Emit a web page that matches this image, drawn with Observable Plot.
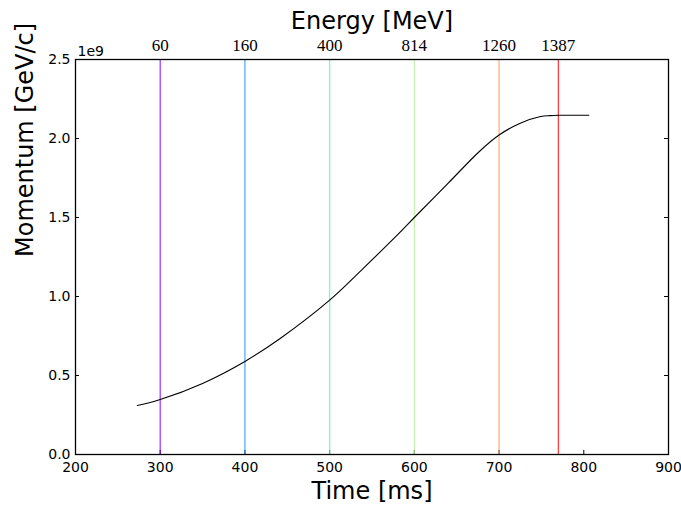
<!DOCTYPE html>
<html>
<head>
<meta charset="utf-8">
<script src="https://cdn.jsdelivr.net/npm/d3@7"></script>
<script src="https://cdn.jsdelivr.net/npm/@observablehq/plot@0.6"></script>
<style>
  html, body { margin: 0; padding: 0; background: #fff; }
  svg text { font-family: "DejaVu Sans", sans-serif; }
  svg text.serif, svg g.serif text { font-family: "Liberation Serif", serif; }
</style>
</head>
<body>
<div id="chart"></div>
<script>
// Ramp time [ms] and beam momentum [1e9 eV/c]
const timeMs   = [273, 300, 350, 400, 442, 500, 540, 580, 600, 640, 678, 700, 725, 749, 760, 770, 785, 806];
const momentum = [0.31, 0.348, 0.45, 0.589, 0.736, 0.977, 1.18, 1.39, 1.50, 1.718, 1.924, 2.022, 2.097, 2.139, 2.145, 2.147, 2.147, 2.147];

// Extraction times [ms] and the matching kinetic energies [MeV]
const markerTimes   = [300, 400, 500, 600, 700, 770];
const markerEnergy  = ["60", "160", "400", "814", "1260", "1387"];
const markerColours = ["#8000ff", "#1a96f2", "#4cf2ce", "#b3f296", "#ff964f", "#ff0000"];

const xTicks = [200, 300, 400, 500, 600, 700, 800, 900];
const yTicks = [0, 0.5, 1.0, 1.5, 2.0, 2.5];

const curve = timeMs.map((t, i) => ({t, p: momentum[i]}));
const markers = markerTimes.map((t, i) => ({t, E: markerEnergy[i], c: markerColours[i]}));

const sans = "DejaVu Sans";

const chart = Plot.plot({
  width: 681,
  height: 506,
  marginLeft: 75,
  marginRight: 13,
  marginTop: 59,
  marginBottom: 52,
  style: {fontFamily: sans, fontSize: "14px", background: "#fff", color: "#000", overflow: "visible"},
  x: {domain: [200, 900]},
  y: {domain: [0, 2.5]},
  marks: [
    // inward ticks on bottom, left and right
    Plot.ruleX(xTicks, {x: d => d, y1: 0, y2: 0.026, stroke: "#000", strokeWidth: 1}),
    Plot.ruleY(yTicks, {y: d => d, x1: 200, x2: 204.7, stroke: "#000", strokeWidth: 1}),
    Plot.ruleY(yTicks, {y: d => d, x1: 895.3, x2: 900, stroke: "#000", strokeWidth: 1}),
    Plot.axisX({ticks: xTicks, tickSize: 0, tickPadding: 8, tickFormat: d => String(d), fontSize: 14, fontFamily: sans, label: null}),
    Plot.axisY({ticks: yTicks, tickSize: 0, tickPadding: 5, tickFormat: d => d.toFixed(1), fontSize: 14, fontFamily: sans, label: null}),
    // extraction markers
    Plot.ruleX(markers, {x: "t", stroke: "c", strokeOpacity: 0.75, strokeWidth: 1.3}),
    Plot.text(markers, {x: "t", text: "E", frameAnchor: "top", lineAnchor: "bottom", dy: -9,
      fontFamily: "Liberation Serif", fontSize: 17, fill: "#000", className: "serif"}),
    // momentum ramp
    Plot.line(curve, {x: "t", y: "p", curve: "catmull-rom", stroke: "#000", strokeWidth: 1.1}),
    Plot.frame({stroke: "#000", strokeWidth: 1.3}),
    // offset, axis titles
    Plot.text(["1e9"], {frameAnchor: "top-left", textAnchor: "start", lineAnchor: "bottom", dx: 2, dy: -4, fontSize: 14, fontFamily: sans, fill: "#000"}),
    Plot.text(["Time [ms]"], {frameAnchor: "bottom", lineAnchor: "bottom", dy: 44, fontSize: 24, fontFamily: sans, fill: "#000"}),
    Plot.text(["Energy [MeV]"], {frameAnchor: "top", lineAnchor: "bottom", dy: -31, fontSize: 24, fontFamily: sans, fill: "#000"}),
    Plot.text(["Momentum [GeV/c]"], {frameAnchor: "left", rotate: -90, lineAnchor: "middle", dx: -50, fontSize: 24, fontFamily: sans, fill: "#000"})
  ]
});

document.getElementById("chart").appendChild(chart);
</script>
</body>
</html>
